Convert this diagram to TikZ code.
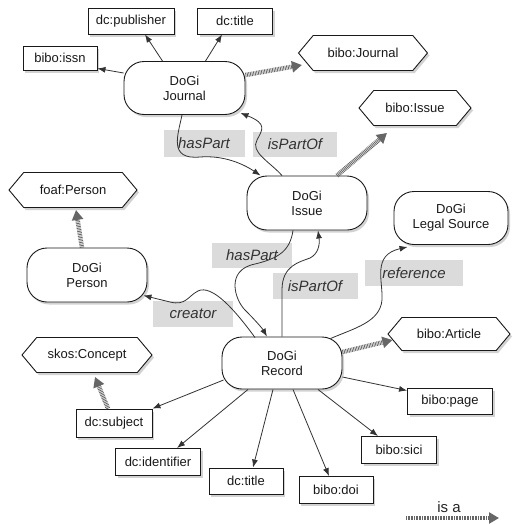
\documentclass[tikz,border=0pt]{standalone}
\usepackage{fontspec}
\setmainfont{Liberation Sans}
\usetikzlibrary{shapes.symbols,shadows,arrows.meta}
\tikzset{
 base/.style={font=\fontsize{13}{15}\selectfont, text=black!90, draw=black!90, line width=0.9pt, fill=white,
   drop shadow={opacity=0.35,shadow xshift=2pt,shadow yshift=-2.5pt}},
 cls/.style={base, rectangle, rounded corners=20pt, align=center, inner sep=0pt},
 lit/.style={base, rectangle, inner sep=0pt},
 hexa/.style={base, signal, signal to=west and east, signal pointer angle=100, inner sep=0pt},
 lbl/.style={fill=black!14, font=\fontsize{15}{18}\selectfont\itshape, text=black!80, inner sep=0pt},
 rel/.style={draw=black!80, line width=0.8pt, -{Latex[length=8pt,width=6pt]}},
 isa/.style={draw=black!60, line width=4.5pt, dash pattern=on 0.8pt off 0.8pt, -{Triangle[length=10pt,width=11pt]}},
}
\begin{document}
\begin{tikzpicture}[x=1pt,y=-1pt]
\fill[white] (0,0) rectangle (512,525);
\useasboundingbox (0,0) rectangle (512,525);
% relation labels
\node[lbl, minimum width=81pt, minimum height=27pt] (lhp1) at (204,143) {hasPart};
\node[lbl, minimum width=84pt, minimum height=25pt] (lpo1) at (295,144) {isPartOf};
\node[lbl, minimum width=80pt, minimum height=25pt] (lhp2) at (252,255) {hasPart};
\node[lbl, minimum width=85pt, minimum height=26pt] (lpo2) at (315,286) {isPartOf};
\node[lbl, minimum width=80pt, minimum height=26pt] (lcr) at (193,314) {creator};
\node[lbl, minimum width=98pt, minimum height=26pt] (lref) at (414,273) {reference};
% nodes
\node[cls, minimum width=121pt, minimum height=53pt] (journal) at (184.5,88) {DoGi\\Journal};
\node[lit, minimum width=86pt, minimum height=26pt] (pub) at (131,21) {dc:publisher};
\node[lit, minimum width=75pt, minimum height=26pt] (jtitle) at (235,21) {dc:title};
\node[lit, minimum width=74pt, minimum height=24pt] (issn) at (60,58) {bibo:issn};
\node[hexa, minimum width=129pt, minimum height=35pt] (bjournal) at (363,53) {bibo:Journal};
\node[hexa, minimum width=112pt, minimum height=35pt] (bissue) at (415,108) {bibo:Issue};
\node[cls, minimum width=120pt, minimum height=54pt] (issue) at (307,203) {DoGi\\Issue};
\node[cls, minimum width=114pt, minimum height=53pt] (legal) at (451,218) {DoGi\\Legal Source};
\node[hexa, minimum width=128pt, minimum height=35pt] (foaf) at (73,190) {foaf:Person};
\node[cls, minimum width=120pt, minimum height=54pt] (person) at (87,275) {DoGi\\Person};
\node[cls, minimum width=120pt, minimum height=52pt] (record) at (282,363) {DoGi\\Record};
\node[hexa, minimum width=122pt, minimum height=33pt] (article) at (449,334) {bibo:Article};
\node[hexa, minimum width=130pt, minimum height=35pt] (skos) at (87,355) {skos:Concept};
\node[lit, minimum width=76pt, minimum height=28pt] (subject) at (114,423) {dc:subject};
\node[lit, minimum width=85pt, minimum height=27pt] (ident) at (158,462) {dc:identifier};
\node[lit, minimum width=74pt, minimum height=26pt] (rtitle) at (246,481) {dc:title};
\node[lit, minimum width=74pt, minimum height=27pt] (doi) at (336,490) {bibo:doi};
\node[lit, minimum width=75pt, minimum height=27pt] (sici) at (399,450) {bibo:sici};
\node[lit, minimum width=85pt, minimum height=26pt] (page) at (450,401) {bibo:page};
% legend
\node[font=\fontsize{15}{18}\selectfont, text=black!85, inner sep=0pt] (isatext) at (449,507) {is a};
\coordinate (lega) at (406,518);
\coordinate (legb) at (499,518);
% journal relations
\draw[rel] ([yshift=15pt]journal.west) -- ([yshift=2pt]issn.south east);
\draw[rel] ([xshift=-22pt]journal.north) -- ([xshift=14pt]pub.south);
\draw[rel] ([xshift=21pt]journal.north) -- ([xshift=-13pt]jtitle.south);
\draw[isa] ([yshift=13pt]journal.east) -- ([xshift=4pt,yshift=-12pt]bjournal.west);
% hasPart / isPartOf journal-issue
\draw[rel] ([xshift=-2.5pt]journal.south) .. controls (178,135) and (168,160) .. (200,157)
  .. controls (225,155) and (245,165) .. ([xshift=14pt]issue.north west);
\draw[rel] ([xshift=-25pt]issue.north) .. controls (270,162) and (250,152) .. (257,140)
  .. controls (262,130) and (268,124) .. ([xshift=-5pt,yshift=2pt]journal.south east);
\draw[isa] ([xshift=30pt]issue.north) -- ([xshift=-28pt,yshift=-7pt]bissue.south);
% hasPart / isPartOf issue-record
\draw[rel] ([xshift=-14pt]issue.south) .. controls (290,250) and (280,258) .. (255,264)
  .. controls (225,270) and (235,300) .. (245,310)
  .. controls (255,320) and (262,328) .. ([xshift=-15pt]record.north);
\draw[rel] ([xshift=0pt]record.north) -- (282,290) .. controls (282,265) and (300,262) .. (310,258)
  .. controls (318,254) and (320,245) .. ([xshift=11pt]issue.south);
% creator, reference
\draw[rel] ([xshift=-27pt,yshift=-1pt]record.north) .. controls (235,310) and (212,284) .. (198,291)
  .. controls (188,296) and (186,306) .. (170,302) -- ([xshift=-4pt,yshift=7pt]person.south east);
\draw[rel] ([xshift=-12pt,yshift=-2pt]record.north east) .. controls (355,328) and (380,322) .. (382,300)
  .. controls (383,280) and (372,255) .. ([xshift=14pt,yshift=-2pt]legal.south west);
% record properties
\draw[isa] ([yshift=11pt]record.east) -- ([xshift=5pt,yshift=-6pt]article.west);
\draw[rel] ([yshift=-14pt]record.east) -- ([yshift=-3pt]page.north west);
\draw[rel] ([xshift=36pt]record.south) -- ([xshift=-21pt]sici.north);
\draw[rel] ([xshift=11pt]record.south) -- ([xshift=-7pt]doi.north);
\draw[rel] ([xshift=-9pt]record.south) -- ([xshift=7pt]rtitle.north);
\draw[rel] ([xshift=-34pt]record.south) -- ([xshift=19pt]ident.north);
\draw[rel] ([xshift=2pt,yshift=-17pt]record.west) -- (subject.north east);
% is-a links
\draw[isa] ([xshift=-5pt]person.north) -- ([xshift=3pt,yshift=-2pt]foaf.south);
\draw[isa] ([xshift=-6pt]subject.north) -- ([xshift=8pt,yshift=-4pt]skos.south);
\draw[isa] (lega) -- (legb);
\end{tikzpicture}
\end{document}
